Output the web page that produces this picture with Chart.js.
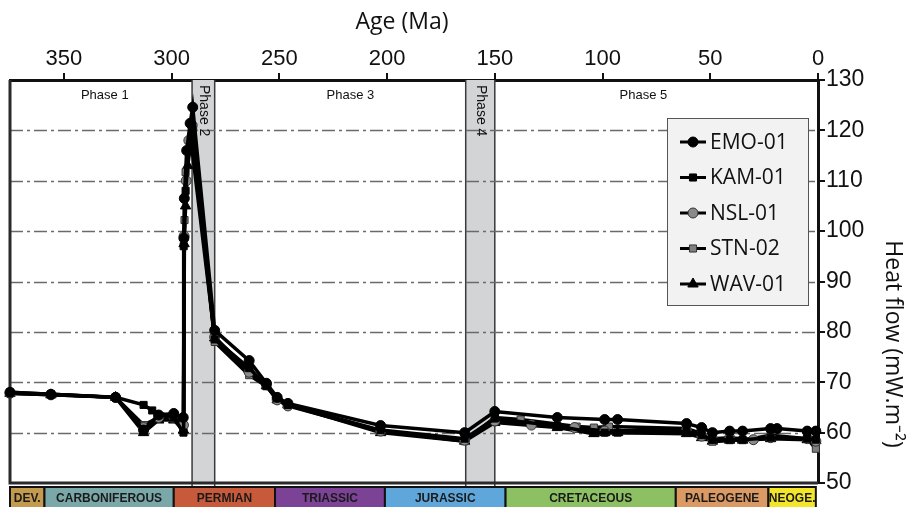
<!DOCTYPE html>
<html lang="en">
    <head>
        <meta charset="UTF-8" />
        <title>Heat flow history</title>
        <script src="https://cdn.jsdelivr.net/npm/chart.js"></script>
        <style>
            body { margin: 0; background: #fff; }
            #chart { display: block; }
        </style>
    </head>
    <body>
        <canvas id="chart" width="916" height="507"></canvas>

        <script>
            // ages (Ma) and heat flow (mW/m2) per well
            const emoAge = [375, 356, 326, 313, 306, 299, 294.6, 294.3, 294.1, 293, 291.4, 290.2, 280, 264, 256, 251, 246, 203, 164, 150, 121, 99, 93, 61, 54, 49, 41, 35, 22, 19, 5, 1];
            const emoHeat = [68, 67.6, 67, 60.5, 63.5, 63.8, 63, 98.6, 106.5, 116, 121.4, 124.6, 80.3, 74.3, 69.8, 67, 65.8, 61.4, 60, 64.2, 63, 62.6, 62.6, 61.8, 61, 60, 60.3, 60.3, 60.8, 60.8, 60.3, 60.3];

            const kamAge = [375, 356, 326, 313, 309, 299, 294.5, 294.4, 293.5, 292, 290.5, 280, 264, 256, 251, 246, 203, 164, 150, 121, 104, 99, 93, 61, 54, 49, 41, 35, 22, 5, 1];
            const kamHeat = [68, 67.6, 67, 65.5, 64.4, 63, 60, 97, 108, 116, 119.5, 78.5, 72.8, 69.3, 66.8, 65.5, 60.5, 58.8, 62.8, 61.3, 60, 60, 60, 60.2, 59.5, 58.6, 58.6, 58.6, 59, 58.8, 58.6];

            const nslAge = [375, 356, 326, 313, 306, 299, 294.5, 294.2, 293.2, 292, 290.5, 280, 264, 256, 251, 246, 203, 164, 150, 133, 113, 99, 61, 54, 49, 41, 30, 22, 5, 1];
            const nslHeat = [67.8, 67.5, 67, 61, 63, 63.2, 61.5, 99, 110, 118, 121, 79, 72, 69.5, 66.5, 65.3, 60.3, 58.5, 62.3, 61.5, 61, 60.3, 60.5, 59.3, 58.8, 59, 58.6, 59, 58.8, 58.3];

            const stnAge = [375, 356, 326, 313, 306, 299, 294.5, 294, 293.5, 290, 280, 264, 256, 251, 246, 203, 164, 150, 138, 112, 104, 97, 61, 54, 49, 41, 35, 22, 5, 1];
            const stnHeat = [67.8, 67.6, 67, 61.5, 63, 62.8, 61, 102.2, 111.7, 120.7, 78, 71.4, 69.2, 66.5, 65.5, 60.3, 58.3, 63, 62.6, 61.2, 61, 61.2, 60.8, 59.8, 58.2, 58.5, 58.5, 59.5, 58.8, 56.8];

            const wavAge = [375, 356, 326, 313, 306, 299, 294.5, 294.2, 293.5, 292.5, 291, 280, 264, 256, 251, 246, 203, 164, 150, 121, 104, 99, 93, 61, 54, 49, 41, 35, 22, 5, 1];
            const wavHeat = [67.8, 67.5, 67, 60, 62.5, 62.5, 60.5, 97.5, 105, 113, 118, 78.8, 72.5, 69.3, 66.5, 65.5, 60, 58.3, 62, 61, 59.8, 60, 60, 59.8, 59, 58.3, 58.5, 58.5, 58.8, 58.6, 58.4];

            // phases along the top
            const phaseNames = ["Phase 1", "Phase 2", "Phase 3", "Phase 4", "Phase 5"];
            const phaseFrom = [375, 290.5, 280, 163.5, 150];
            const phaseTo = [290.5, 280, 163.5, 150, 0];
            const phaseLabelAt = [331, 285.2, 217, 156.7, 81];

            // geological periods along the bottom
            const periodNames = ["DEV.", "CARBONIFEROUS", "PERMIAN", "TRIASSIC", "JURASSIC", "CRETACEOUS", "PALEOGENE", "NEOGE."];
            const periodFrom = [375, 359, 299, 252, 201, 145, 66, 23];
            const periodTo = [359, 299, 252, 201, 145, 66, 23, 1];
            const periodColors = ["#c49a4e", "#7aa8a8", "#c85a3c", "#7b4296", "#5fa7db", "#8dc063", "#db9a63", "#f2e52a"];

            const xTicks = [0, 50, 100, 150, 200, 250, 300, 350];

            function series(label, ages, heat, style, fill) {
                return {
                    label: label,
                    data: ages.map((a, i) => ({ x: a, y: heat[i] })),
                    borderColor: "#000",
                    borderWidth: 3.5,
                    tension: 0,
                    pointStyle: style,
                    pointRadius: style === "triangle" ? 6 : 5,
                    pointBackgroundColor: fill,
                    pointBorderColor: fill === "#000" ? "#000" : "#333",
                    pointBorderWidth: 1,
                    clip: 6,
                };
            }

            const datasets = [
                series("EMO-01", emoAge, emoHeat, "circle", "#000"),
                series("KAM-01", kamAge, kamHeat, "rect", "#000"),
                series("NSL-01", nslAge, nslHeat, "circle", "#8a8a8a"),
                series("STN-02", stnAge, stnHeat, "rect", "#7f7f7f"),
                series("WAV-01", wavAge, wavHeat, "triangle", "#000"),
            ];
            datasets.forEach((d, i) => (d.order = i));

            const backdrop = {
                id: "backdrop",
                beforeDatasetsDraw(chart) {
                    const { ctx, chartArea: a, scales } = chart;
                    const x = scales.x, y = scales.y;
                    ctx.save();
                    // shaded phases 2 and 4
                    [1, 3].forEach((i) => {
                        const x1 = x.getPixelForValue(phaseFrom[i]);
                        const x2 = x.getPixelForValue(phaseTo[i]);
                        ctx.fillStyle = "#d3d4d6";
                        ctx.fillRect(x1, a.top, x2 - x1, a.bottom - a.top);
                        ctx.strokeStyle = "#3a3a3a";
                        ctx.lineWidth = 1.5;
                        ctx.beginPath();
                        ctx.moveTo(x1, a.top);
                        ctx.lineTo(x1, a.bottom + 4);
                        ctx.moveTo(x2, a.top);
                        ctx.lineTo(x2, a.bottom + 4);
                        ctx.stroke();
                    });
                    // dash-dot grid lines
                    ctx.strokeStyle = "#6a6a6a";
                    ctx.lineWidth = 1.3;
                    ctx.setLineDash([13, 4, 3, 4]);
                    y.ticks.forEach((t) => {
                        if (t.value <= y.min || t.value >= y.max) return;
                        const py = Math.round(y.getPixelForValue(t.value)) + 0.5;
                        ctx.beginPath();
                        ctx.moveTo(a.left, py);
                        ctx.lineTo(a.right, py);
                        ctx.stroke();
                    });
                    ctx.setLineDash([]);
                    // phase labels
                    ctx.fillStyle = "#111";
                    ctx.font = "13px 'Liberation Sans', Arial, sans-serif";
                    ctx.textAlign = "center";
                    ctx.textBaseline = "middle";
                    phaseNames.forEach((name, i) => {
                        const px = x.getPixelForValue(phaseLabelAt[i]);
                        if (i === 1 || i === 3) {
                            ctx.save();
                            ctx.translate(px, a.top + 5);
                            ctx.rotate(Math.PI / 2);
                            ctx.textAlign = "left";
                            ctx.font = "14px 'Liberation Sans', Arial, sans-serif";
                            ctx.fillText(name, 0, 0);
                            ctx.restore();
                        } else {
                            ctx.fillText(name, px, a.top + 15);
                        }
                    });
                    // left and bottom frame
                    ctx.strokeStyle = "#2a2a2a";
                    ctx.lineWidth = 3;
                    ctx.beginPath();
                    ctx.moveTo(a.left, a.top);
                    ctx.lineTo(a.left, a.bottom);
                    ctx.lineTo(a.right, a.bottom);
                    ctx.stroke();
                    ctx.restore();
                },
                afterDraw(chart) {
                    const { ctx, chartArea: a, scales } = chart;
                    const x = scales.x;
                    ctx.save();
                    // axis titles
                    ctx.fillStyle = "#111";
                    ctx.font = "23px 'Open Sans', sans-serif";
                    ctx.textAlign = "center";
                    ctx.textBaseline = "middle";
                    ctx.fillText("Age (Ma)", 402, 22);
                    ctx.save();
                    ctx.translate(893, 344);
                    ctx.rotate(Math.PI / 2);
                    ctx.font = "23px 'Open Sans', sans-serif";
                    ctx.fillText("Heat flow (mW.m⁻²)", 0, 0);
                    ctx.restore();

                    // period strip
                    const top = a.bottom + 4;
                    const h = 24;
                    periodNames.forEach((name, i) => {
                        const x1 = x.getPixelForValue(periodFrom[i]);
                        const x2 = x.getPixelForValue(periodTo[i]);
                        ctx.fillStyle = periodColors[i];
                        ctx.fillRect(x1, top, x2 - x1, h);
                        ctx.strokeStyle = "#111";
                        ctx.lineWidth = 2;
                        ctx.strokeRect(x1, top, x2 - x1, h);
                        ctx.fillStyle = "#1a1a1a";
                        ctx.font = "bold 12px 'Liberation Sans', Arial, sans-serif";
                        ctx.textAlign = "center";
                        ctx.textBaseline = "middle";
                        ctx.fillText(name, (x1 + x2) / 2, top + 12);
                    });

                    // legend box
                    const lx = 667, ly = 118, lw = 141, lh = 187;
                    ctx.fillStyle = "#f2f2f2";
                    ctx.fillRect(lx, ly, lw, lh);
                    ctx.strokeStyle = "#555";
                    ctx.lineWidth = 1;
                    ctx.strokeRect(lx + 0.5, ly + 0.5, lw, lh);
                    chart.data.datasets.forEach((d, i) => {
                        const cy = ly + 24 + i * 35.5;
                        ctx.strokeStyle = "#000";
                        ctx.lineWidth = 3;
                        ctx.beginPath();
                        ctx.moveTo(lx + 13, cy);
                        ctx.lineTo(lx + 39, cy);
                        ctx.stroke();
                        ctx.fillStyle = d.pointBackgroundColor;
                        ctx.strokeStyle = d.pointBorderColor;
                        ctx.lineWidth = 1;
                        Chart.helpers.drawPoint(ctx, { pointStyle: d.pointStyle, radius: d.pointRadius, rotation: 0, borderWidth: 1 }, lx + 26, cy);
                        ctx.fillStyle = "#111";
                        ctx.font = "21px 'Open Sans', sans-serif";
                        ctx.textAlign = "left";
                        ctx.textBaseline = "middle";
                        ctx.fillText(d.label, lx + 43, cy + 1);
                    });
                    ctx.restore();
                },
            };

            const ctx = document.getElementById("chart").getContext("2d");
            new Chart(ctx, {
                type: "line",
                data: { datasets: datasets },
                options: {
                    responsive: false,
                    animation: false,
                    layout: { padding: { left: 10, bottom: 24, top: 0, right: 0 } },
                    plugins: {
                        legend: { display: false },
                        tooltip: { enabled: false },
                    },
                    scales: {
                        x: {
                            type: "linear",
                            position: "top",
                            reverse: true,
                            min: 0,
                            max: 375,
                            afterBuildTicks: (s) => {
                                s.ticks = xTicks.map((v) => ({ value: v }));
                            },
                            afterFit: (s) => {
                                s.height = 80;
                            },
                            ticks: {
                                color: "#111",
                                font: { family: "'Liberation Sans', Arial", size: 22 },
                                maxRotation: 0,
                                padding: 1,
                            },
                            grid: { drawOnChartArea: false, tickLength: 7, color: "#111", lineWidth: 2 },
                            border: { color: "#111", width: 3 },
                        },
                        y: {
                            position: "right",
                            min: 50,
                            max: 130,
                            afterFit: (s) => {
                                s.width = 98;
                            },
                            ticks: {
                                stepSize: 10,
                                color: "#111",
                                font: { family: "'Liberation Sans', Arial", size: 23 },
                                padding: 1,
                            },
                            grid: { drawOnChartArea: false, tickLength: 7, color: "#111", lineWidth: 2 },
                            border: { color: "#111", width: 3 },
                        },
                    },
                },
                plugins: [backdrop],
            });
        </script>
    </body>
</html>
